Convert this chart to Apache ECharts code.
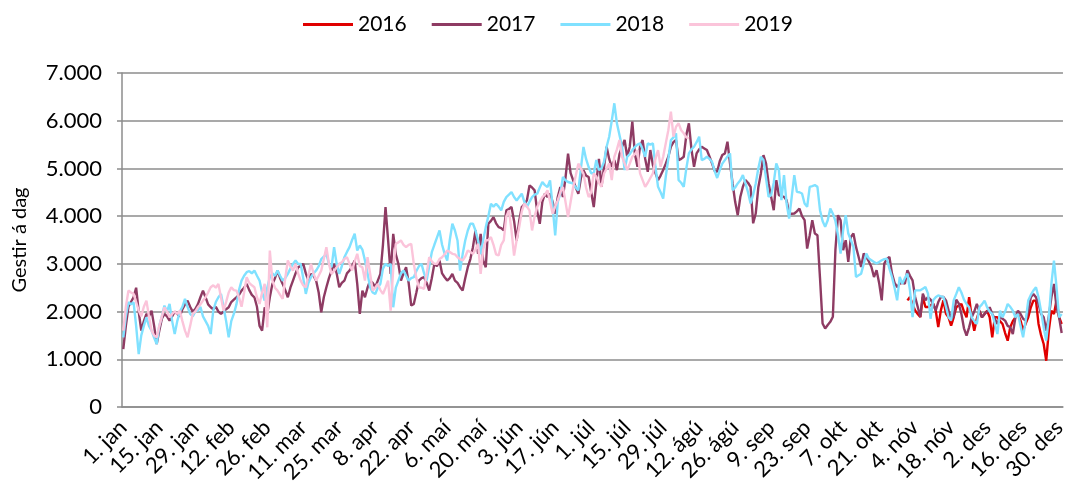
<!DOCTYPE html>
<html>
<head>
<meta charset="utf-8">
<script src="https://cdn.jsdelivr.net/npm/echarts@6/dist/echarts.min.js"></script>
<style>
  html, body { margin: 0; padding: 0; background: #fff; }
  #chart { width: 1069px; height: 493px; }
</style>
</head>
<body>
<div id="chart"></div>
<script>
// dagar ársins (hlaupár, 366 dagar)
const monthNames = ['jan', 'feb', 'mar', 'apr', 'maí', 'jún', 'júl', 'ágú', 'sep', 'okt', 'nóv', 'des'];
const monthDays = [31, 29, 31, 30, 31, 30, 31, 31, 30, 31, 30, 31];
const days = [];
monthNames.forEach((m, i) => {
  for (let d = 1; d <= monthDays[i]; d++) days.push(d + '. ' + m);
});

const years = ['2016', '2017', '2018', '2019'];
const colors = ['#e00000', '#8e3b63', '#80e1ff', '#fbc4da'];

// 2016 byrjar 1. nóv
const start2016 = 305;
const v2016 = [
  2235, 2305, 2150, 2025, 1950, 1885, 2305, 2095, 2095, 2130,
  2165, 2025, 1675, 2025, 2235, 1955, 1880, 1705, 1880, 2090,
  2130, 2160, 2000, 1880, 2300, 1880, 1600, 1850, 2020, 1880,
  1950, 2020, 1880, 1460, 1880, 1880, 1800, 1740, 1550, 1390,
  1670, 1800, 1880, 1950, 1810, 1600, 1750, 1880, 2090, 2230,
  2230, 1740, 1500, 1320, 970, 1600, 2020, 1950, 2230, 1880, 1740
];

const v2017 = [
  1215, 1700, 2100, 2200, 2300, 2500, 2000, 1600, 1800, 1950,
  1900, 2020, 1700, 1320, 1600, 1850, 1950, 1900, 1810, 1900,
  2000, 1950, 1900, 2050, 2150, 2230, 2100, 2000, 2050, 2150,
  2300, 2440, 2300, 2150, 2090, 2050, 2100, 2000, 1950, 2000,
  2050, 2090, 2200, 2250, 2300, 2350, 2440, 2500, 2580, 2450,
  2350, 2300, 2100, 1700, 1600, 2090, 1950, 2300, 2580, 2700,
  2860, 2700, 2580, 2450, 2300, 2500, 2650, 2800, 2930, 2950,
  3000, 2800, 2650, 2790, 2750, 2650, 2400, 1985, 2300, 2510,
  2700, 2860, 3000, 2800, 2510, 2600, 2650, 2800, 2860, 2950,
  3070, 2580, 1950, 2440, 2300, 2500, 2650, 2600, 2510, 2650,
  2790, 3400, 4190, 3500, 2790, 3630, 3200, 3000, 2650, 2800,
  2930, 2600, 2125, 2160, 2400, 2650, 2700, 2720, 2600, 2440,
  2700, 3000, 2950, 3070, 2800, 2720, 2650, 2700, 2790, 2650,
  2600, 2510, 2440, 2700, 2930, 3100, 3350, 3700, 3210, 3630,
  3070, 2930, 3840, 3900, 3980, 3850, 3770, 3750, 3700, 4120,
  4150, 4190, 3900, 3490, 3900, 4190, 4250, 4330, 4645, 4600,
  4540, 4100, 3840, 4300, 4470, 4400, 4470, 4300, 4050, 4400,
  4610, 4400, 4800, 5310, 4900, 4750, 4600, 4470, 4800, 4960,
  4850, 4820, 4500, 4190, 4700, 5200, 4615, 5030, 5455, 5200,
  5035, 5175, 4965, 5300, 5455, 5595, 5245, 5455, 5980, 5300,
  5035, 5455, 5595, 5200, 4930, 5385, 5070, 4900, 4755, 4850,
  4965, 5100, 5245, 5455, 5550, 5595, 5175, 5200, 5245, 5700,
  5945, 5400, 5035, 5315, 5400, 5455, 5420, 5385, 5250, 5105,
  4950, 4930, 5150, 5280, 5315, 5560, 5105, 4685, 4300, 4020,
  4400, 4615, 4755, 4700, 4615, 3850, 4055, 4600, 4895, 5280,
  5105, 4685, 4400, 4125, 4755, 4440, 4420, 4405, 4335, 4055,
  4050, 4055, 4100, 4160, 4000, 3915, 3320, 3600, 3915, 3635,
  3600, 2700, 1750, 1645, 1720, 1785, 1890, 3300, 4020, 3915,
  3285, 3495, 3040, 3565, 3635, 3355, 3150, 2935, 3215, 3145,
  3050, 2935, 2725, 2865, 2600, 2235, 3005, 3100, 3145, 2795,
  2600, 2515, 2585, 2600, 2585, 2865, 2750, 2655, 2305, 2100,
  1885, 2375, 2235, 2305, 2250, 2165, 2025, 2200, 2305, 2305,
  2235, 2025, 1850, 1900, 2250, 2165, 1950, 1650, 1495, 1670,
  1880, 2000, 2160, 2000, 1880, 1950, 2000, 2090, 1950, 1850,
  1740, 1880, 1850, 1810, 1700, 1670, 1530, 1880, 2020, 1950,
  1850, 1810, 2020, 2300, 2370, 2300, 2160, 1950, 1880, 1600,
  1900, 2300, 2580, 2090, 1880, 1550
];

const v2018 = [
  1460, 1900, 2195, 2150, 2195, 1700, 1110, 1500, 1700, 1880,
  1700, 1600, 1450, 1320, 1700, 1900, 2125, 2000, 2160, 1800,
  1530, 1800, 2000, 2100, 2265, 2100, 1950, 1900, 2000, 2020,
  2100, 1900, 1800, 1700, 1530, 2020, 2200, 2300, 2370, 2100,
  1800, 1460, 1800, 1950, 2150, 2450, 2650, 2750, 2825, 2850,
  2800, 2860, 2750, 2650, 2400, 2230, 2500, 2720, 2800, 2750,
  2860, 2750, 2650, 2700, 2790, 2900, 3000, 3070, 3000, 3000,
  2700, 2370, 2600, 2720, 2800, 2860, 2950, 3100, 3150, 3210,
  3000, 2930, 3350, 3000, 2790, 2950, 3140, 3250, 3350, 3500,
  3630, 3280, 3385, 3300, 3070, 2800, 2510, 2400, 2370, 2500,
  2580, 2900, 3000, 2950, 3000, 2090, 2500, 2650, 2800, 2860,
  2750, 2650, 2700, 2720, 2850, 2950, 3000, 2800, 2650, 2950,
  3245, 3400, 3550, 3700, 3400, 3210, 3070, 3500, 3840, 3700,
  3490, 2860, 3200, 3490, 3700, 3840, 3840, 3700, 3490, 3200,
  3500, 3770, 4000, 4260, 4200, 4260, 4200, 4120, 4300, 4400,
  4450, 4505, 4400, 4330, 4400, 4470, 4300, 4190, 4300, 4400,
  4450, 4470, 4600, 4715, 4650, 4610, 4750, 4200, 3595, 4300,
  4470, 4820, 4750, 4715, 4700, 4680, 4600, 4540, 5000, 5450,
  5200, 5030, 4900, 4900, 5175, 4965, 5000, 5140, 5455, 5665,
  6000, 6365, 5945, 5700, 5455, 4965, 5245, 5300, 5385, 5450,
  5500, 5525, 5400, 5245, 5525, 5500, 5525, 5035, 4615, 4500,
  4370, 4825, 5200, 5595, 5650, 5735, 4755, 4700, 4615, 5000,
  5315, 5400, 5455, 5550, 5665, 5175, 5200, 5245, 5200, 5140,
  4950, 4800, 4965, 5100, 5175, 5250, 5315, 4545, 4600, 4685,
  4750, 4860, 4685, 4500, 4265, 4450, 4685, 5000, 5245, 5175,
  4800, 4405, 4440, 4700, 5105, 4965, 4335, 4860, 4265, 3950,
  4405, 4860, 4510, 4500, 4475, 4265, 4195, 4615, 4630, 4650,
  4615, 4125, 3900, 3775, 3915, 4160, 4050, 3900, 3600, 3215,
  3705, 4020, 3635, 3500, 3355, 2725, 2760, 2795, 3000, 3215,
  3110, 3075, 3040, 3005, 3040, 3075, 3100, 3110, 2900, 2725,
  2500, 2235, 2725, 2585, 2700, 2795, 2445, 1885, 2445, 2445,
  2445, 2480, 2515, 2375, 1850, 2235, 2300, 2340, 2320, 2305,
  2095, 1880, 1815, 2235, 2370, 2510, 2400, 2250, 2160, 2090,
  1880, 1800, 1740, 2090, 2150, 2230, 2090, 2000, 1950, 1750,
  1530, 2020, 1880, 2000, 2160, 2100, 2020, 1880, 1950, 1700,
  1460, 1810, 2230, 2350, 2440, 2510, 2300, 2000, 1670, 1390,
  1880, 2580, 3070, 2510, 1880, 1950
];

// 2019 nær til 8. ágú
const v2019 = [
  1600, 2100, 2440, 2400, 2370, 2200, 2020, 1900, 2100, 2230,
  1900, 1600, 1500, 1460, 1700, 1900, 2090, 2000, 1880, 1950,
  2000, 1950, 2020, 1800, 1600, 1460, 1700, 1950, 2000, 2090,
  2150, 2230, 2300, 2400, 2510, 2550, 2500, 2580, 2300, 2020,
  2200, 2400, 2510, 2450, 2440, 2300, 2100, 2400, 2720, 2600,
  2550, 2510, 2300, 2160, 2400, 2580, 1670, 3280, 2650, 2500,
  2440, 2350, 2265, 2700, 3070, 2950, 2860, 3000, 2800, 2650,
  2550, 2510, 2750, 3000, 2800, 2650, 2750, 2860, 3100, 3350,
  3000, 2790, 2850, 2930, 3000, 3035, 3100, 3140, 3000, 2860,
  3050, 3210, 2950, 2930, 2650, 3140, 2800, 2440, 2500, 2580,
  2450, 2370, 2500, 2650, 2020, 2900, 3420, 3450, 3490, 3400,
  3350, 3400, 3420, 3000, 2700, 2510, 2500, 2475, 2800, 3140,
  3050, 3000, 3000, 3100, 3140, 3200, 3280, 3250, 3210, 3200,
  3140, 3100, 3070, 3150, 3280, 3250, 3210, 3300, 3420, 2790,
  3300, 3490, 3500, 3560, 3400, 3200, 3175, 3400, 3490, 4000,
  4120, 3700, 3175, 3500, 3770, 4100, 4260, 4200, 4120, 3700,
  4000, 4190, 4300, 4400, 4450, 4540, 4300, 4050, 4200, 4330,
  4500, 4610, 4300, 3980, 4300, 4610, 4850, 5100, 5000, 4890,
  4600, 4400, 4500, 4895, 4825, 4700, 4615, 4895, 5000, 5105,
  4755, 5245, 5400, 5595, 5245, 5105, 4965, 5100, 5245, 5300,
  5385, 4895, 4755, 4615, 4700, 4800, 4895, 5200, 5385, 5035,
  5245, 5525, 5800, 6190, 5665, 5875, 5945, 5800, 5735, 5650, 5630
];

const seriesValues = [
  Array(start2016).fill(null).concat(v2016),
  v2017,
  v2018,
  v2019
];

const font = 'Lato, "Open Sans", sans-serif';
const axisGrey = '#8c8c8c';

const chart = echarts.init(document.getElementById('chart'));
const option = {
  animation: false,
  color: colors,
  textStyle: { fontFamily: font, color: '#000' },
  legend: {
    top: 9,
    left: 298,
    icon: 'rect',
    itemWidth: 50,
    itemHeight: 3,
    itemGap: 25,
    textStyle: { fontSize: 21, color: '#000' },
    data: years
  },
  grid: {
    left: 122,
    right: 4,
    top: 73,
    bottom: 86
  },
  xAxis: {
    type: 'category',
    data: days,
    boundaryGap: true,
    axisLine: { lineStyle: { color: axisGrey, width: 1.5 } },
    axisTick: {
      interval: 13,
      alignWithLabel: false,
      length: 5,
      lineStyle: { color: axisGrey, width: 1.5 }
    },
    axisLabel: {
      interval: 13,
      rotate: 45,
      margin: 17,
      fontSize: 22,
      color: '#000',
      fontFamily: font
    },
    splitLine: { show: false }
  },
  yAxis: {
    type: 'value',
    min: 0,
    max: 7000,
    interval: 1000,
    name: 'Gestir á dag',
    nameLocation: 'middle',
    nameRotate: 90,
    nameGap: 92,
    nameTextStyle: { fontSize: 20, color: '#000', fontFamily: font },
    axisLine: { show: true, lineStyle: { color: axisGrey, width: 1.5 } },
    axisTick: { show: true, length: 5, lineStyle: { color: axisGrey, width: 1.5 } },
    axisLabel: {
      fontSize: 22,
      margin: 20,
      color: '#000',
      fontFamily: font,
      formatter: v => v === 0 ? '0' : (v / 1000).toFixed(3)
    },
    splitLine: { lineStyle: { color: axisGrey, width: 1.5 } }
  },
  series: years.map((y, i) => ({
    name: y,
    type: 'line',
    data: seriesValues[i],
    symbol: 'none',
    connectNulls: false,
    lineStyle: { width: 2.4, color: colors[i] },
    itemStyle: { color: colors[i] }
  }))
};
chart.setOption(option);
</script>
</body>
</html>
